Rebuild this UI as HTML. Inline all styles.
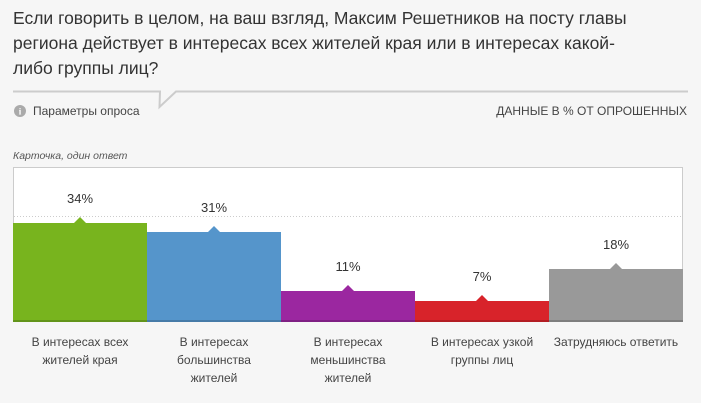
<!DOCTYPE html>
<html><head><meta charset="utf-8"><style>
body{margin:0;width:701px;height:403px;background:#f6f6f6;font-family:"Liberation Sans",sans-serif;position:relative;overflow:hidden;color:#333}
.t{position:absolute;left:13px;top:6px;width:690px;font-size:17.5px;line-height:25px;color:#333;white-space:nowrap}
.a{position:absolute}
.lbl{position:absolute;top:333px;width:134px;text-align:center;font-size:12px;line-height:18px;color:#444}
.pct{position:absolute;width:134px;text-align:center;font-size:13px;color:#333}
</style></head><body>
<div class="t">Если говорить в целом, на ваш взгляд, Максим Решетников на посту главы<br>региона действует в интересах всех жителей края или в интересах какой-<br>либо группы лиц?</div>
<svg class="a" style="left:0;top:0" width="701" height="403">
<polyline points="13,91.5 160,91.5 159.5,107 176,91.5 688,91.5" fill="none" stroke="#ccc" stroke-width="2"/>
<circle cx="20" cy="111" r="6" fill="#aaa"/>
<text x="20" y="114.5" font-size="9" font-weight="bold" fill="#fff" text-anchor="middle" font-family="Liberation Serif">i</text>
<rect x="13.5" y="167.5" width="669" height="154" fill="#fff" stroke="#ccc"/>
<line x1="14" y1="216.5" x2="682" y2="216.5" stroke="#ccc" stroke-dasharray="1,2"/>
<rect x="13" y="223" width="134" height="99" fill="#78b41e"/>
<rect x="147" y="232" width="134" height="90" fill="#5595cb"/>
<rect x="281" y="291" width="134" height="31" fill="#9b27a0"/>
<rect x="415" y="301" width="134" height="21" fill="#d8232a"/>
<rect x="549" y="269" width="134" height="53" fill="#999"/>
<rect x="13" y="320" width="134" height="2" fill="#62941a"/>
<rect x="147" y="320" width="134" height="2" fill="#467ba8"/>
<rect x="281" y="320" width="134" height="2" fill="#7f2084"/>
<rect x="415" y="320" width="134" height="2" fill="#b31d23"/>
<rect x="549" y="320" width="134" height="2" fill="#7e7e7e"/>
<polygon points="74,223 80,217 86,223" fill="#78b41e"/>
<polygon points="208,232 214,226 220,232" fill="#5595cb"/>
<polygon points="342,291 348,285 354,291" fill="#9b27a0"/>
<polygon points="476,301 482,295 488,301" fill="#d8232a"/>
<polygon points="610,269 616,263 622,269" fill="#999"/>
</svg>
<div class="a" style="left:33px;top:104px;font-size:12px;color:#444">Параметры опроса</div>
<div class="a" style="right:14px;top:104px;font-size:12px;color:#444">ДАННЫЕ В % ОТ ОПРОШЕННЫХ</div>
<div class="a" style="left:13px;top:150px;font-size:10.5px;font-style:italic;color:#555">Карточка, один ответ</div>
<div class="pct" style="left:13px;top:191px">34%</div>
<div class="pct" style="left:147px;top:200px">31%</div>
<div class="pct" style="left:281px;top:259px">11%</div>
<div class="pct" style="left:415px;top:269px">7%</div>
<div class="pct" style="left:549px;top:237px">18%</div>
<div class="lbl" style="left:13px">В интересах всех<br>жителей края</div>
<div class="lbl" style="left:147px">В интересах<br>большинства<br>жителей</div>
<div class="lbl" style="left:281px">В интересах<br>меньшинства<br>жителей</div>
<div class="lbl" style="left:415px">В интересах узкой<br>группы лиц</div>
<div class="lbl" style="left:549px">Затрудняюсь ответить</div>
</body></html>
